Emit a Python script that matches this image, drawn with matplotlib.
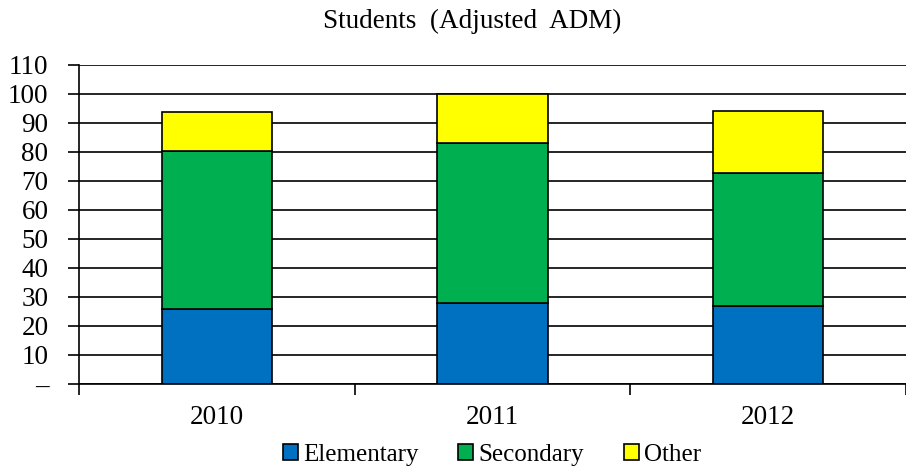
import matplotlib.pyplot as plt
import numpy as np

plt.rcParams['font.family'] = ['Liberation Serif', 'DejaVu Serif']

# Data
years = ['2010', '2011', '2012']
elementary = [25.7, 27.9, 26.8]
secondary = [54.5, 55.0, 45.7]
other = [13.3, 17.1, 21.4]

fig = plt.figure(figsize=(9.06, 4.70), dpi=100)
ax = fig.add_axes([79 / 906, 1 - 384 / 470, 1 - 79 / 906, (384 - 64.5) / 470])

x = np.arange(len(years))
w = 0.40
bottom2 = np.array(elementary)
bottom3 = bottom2 + np.array(secondary)

ax.bar(x, elementary, w, color='#0070C0', edgecolor='black', linewidth=1.2, label='Elementary', zorder=3)
ax.bar(x, secondary, w, bottom=bottom2, color='#00B050', edgecolor='black', linewidth=1.2, label='Secondary', zorder=3)
ax.bar(x, other, w, bottom=bottom3, color='#FFFF00', edgecolor='black', linewidth=1.2, label='Other', zorder=3)

ax.set_xlim(-0.5, 2.467)
ax.set_ylim(0, 110)
yt = np.arange(0, 111, 10)
ax.set_yticks(yt)
ax.set_yticklabels(['–'] + [str(v) for v in yt[1:]], fontsize=19.5)
ax.grid(axis='y', color='black', linewidth=1.2, zorder=0)

ax.set_xticks([-0.5, 0.5, 1.5, 2.5])
ax.set_xticklabels([])
ax.set_xticks(x, minor=True)
ax.set_xticklabels(years, minor=True, fontsize=19.5)
ax.tick_params(axis='x', which='minor', length=0, pad=15)
ax.tick_params(axis='x', which='major', length=8, width=1.2, direction='out')
ax.tick_params(axis='y', length=8, width=1.2, direction='out', pad=14)

for s in ['top', 'right']:
    ax.spines[s].set_visible(False)
ax.spines['left'].set_linewidth(1.2)
ax.spines['bottom'].set_linewidth(1.2)

fig.text(0.521, 0.955, 'Students  (Adjusted  ADM)', ha='center', va='center', fontsize=19.5)

fig.legend(loc='center', bbox_to_anchor=(0.543, 0.032), ncol=3, frameon=False,
           fontsize=18, handlelength=0.6, handleheight=0.6, handletextpad=0.2,
           columnspacing=1.6)

fig.savefig('out.png', dpi=100)
